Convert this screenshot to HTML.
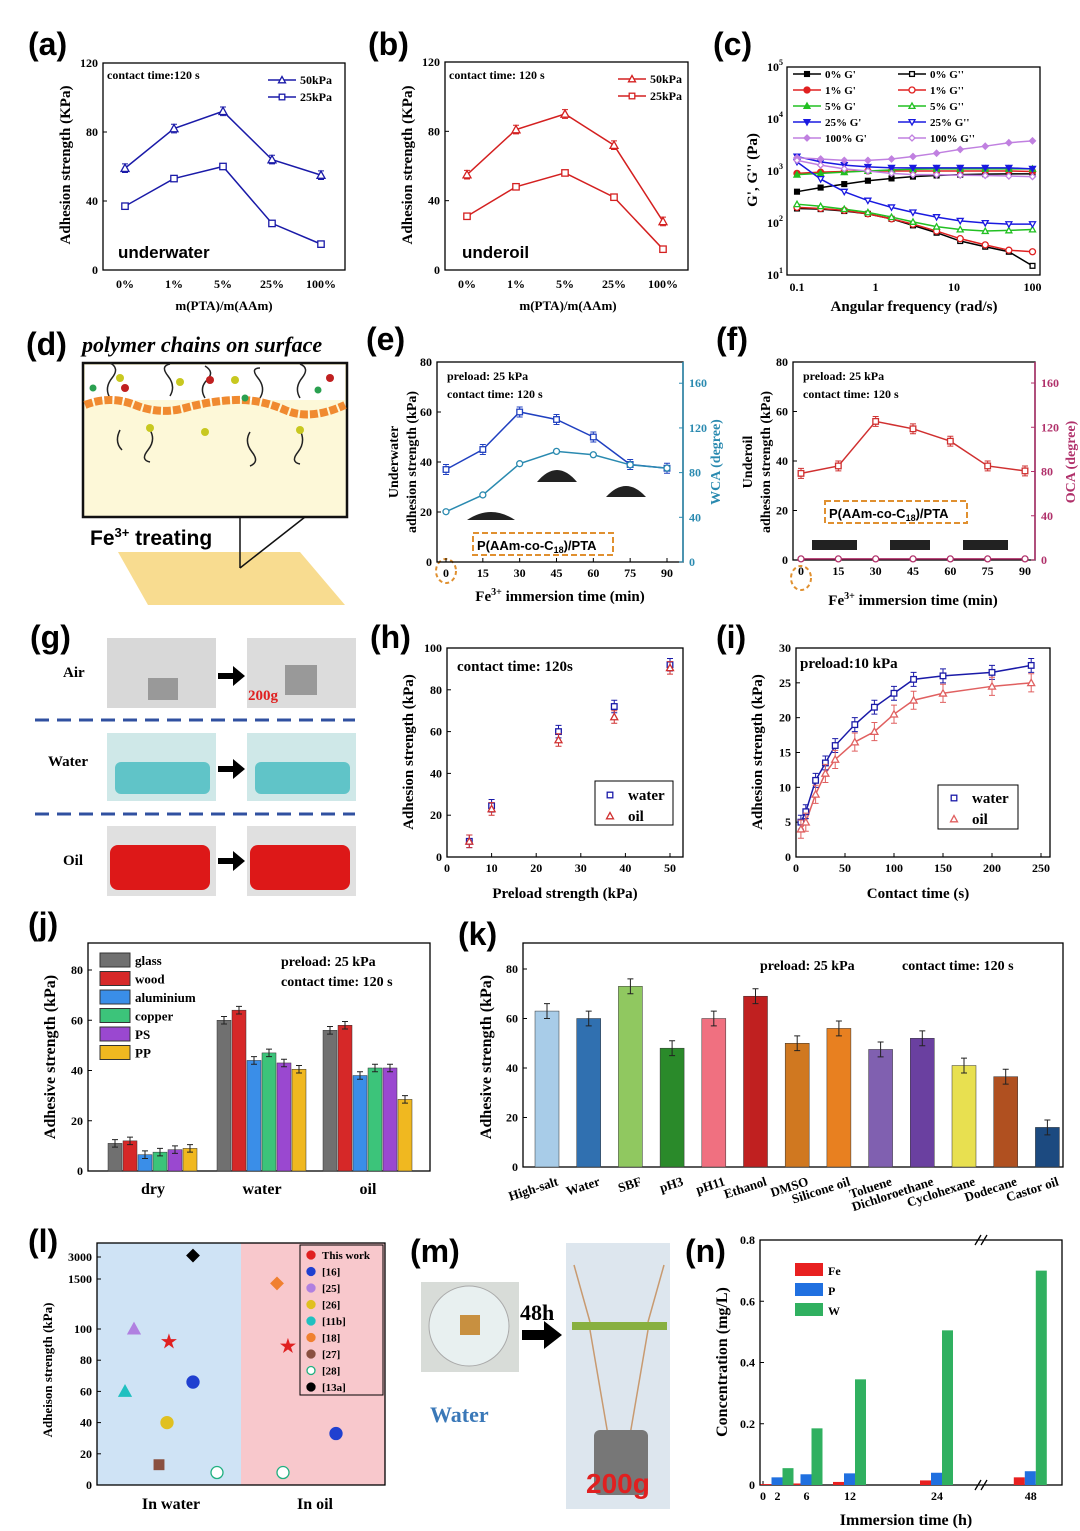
<!DOCTYPE html>
<html><head><meta charset="utf-8"><style>
body{margin:0;background:#fff}
svg{display:block;font-family:"Liberation Serif",serif;font-weight:bold}
.pl{font-family:"Liberation Sans",sans-serif;font-size:32px;font-weight:bold}
.tk{font-size:12px}
.at{font-size:15px}
</style></head><body>
<svg id="fig" width="1080" height="1531" viewBox="0 0 1080 1531" xmlns="http://www.w3.org/2000/svg">
<g>
<text class="pl" x="28" y="55">(a)</text>
<text class="pl" x="368" y="55">(b)</text>
<text class="pl" x="713" y="55">(c)</text>
<text class="pl" x="26" y="355">(d)</text>
<text class="pl" x="366" y="350">(e)</text>
<text class="pl" x="716" y="350">(f)</text>
<text class="pl" x="30" y="648">(g)</text>
<text class="pl" x="370" y="648">(h)</text>
<text class="pl" x="716" y="648">(i)</text>
<text class="pl" x="28" y="935">(j)</text>
<text class="pl" x="458" y="945">(k)</text>
<text class="pl" x="28" y="1252">(l)</text>
<text class="pl" x="410" y="1262">(m)</text>
<text class="pl" x="685" y="1262">(n)</text>
</g>
<g>
<text x="107" y="79" font-size="12">contact time:120 s</text>
<text x="118" y="258" font-family="Liberation Sans" font-size="17">underwater</text>
<text x="224" y="310" text-anchor="middle" font-size="13">m(PTA)/m(AAm)</text>
<text transform="translate(70,165) rotate(-90)" text-anchor="middle" class="at">Adhesion strength (KPa)</text>
<text x="449" y="79" font-size="12">contact time:  120 s</text>
<text x="462" y="258" font-family="Liberation Sans" font-size="17">underoil</text>
<text x="568" y="310" text-anchor="middle" font-size="13">m(PTA)/m(AAm)</text>
<text transform="translate(412,165) rotate(-90)" text-anchor="middle" class="at">Adhesion strength (KPa)</text>
<text x="914" y="311" text-anchor="middle" class="at">Angular frequency (rad/s)</text>
<text transform="translate(757,170) rotate(-90)" text-anchor="middle" class="at">G', G'' (Pa)</text>
<text x="82" y="352" font-size="22" font-style="italic">polymer chains on surface</text>
<text transform="translate(398,462) rotate(-90)" text-anchor="middle" font-size="14">Underwater</text>
<text x="447" y="380" font-size="12">preload:  25 kPa</text>
<text x="447" y="398" font-size="12">contact time:  120 s</text>
<text x="560" y="601" text-anchor="middle" class="at">Fe<tspan font-size="10" dy="-6">3+</tspan><tspan dy="6"> immersion time (min)</tspan></text>
<text transform="translate(416,462) rotate(-90)" text-anchor="middle" font-size="14">adhesion strength (kPa)</text>
<text transform="translate(720,462) rotate(-90)" text-anchor="middle" font-size="14" fill="#2a8ab0">WCA (degree)</text>
<rect x="473" y="533" width="140" height="22" fill="none" stroke="#e09030" stroke-width="2" stroke-dasharray="6,3"/>
<text x="477" y="550" font-family="Liberation Sans" font-size="13">P(AAm-co-C<tspan font-size="9" dy="3">18</tspan><tspan dy="-3">)/PTA</tspan></text>
<ellipse cx="446" cy="571" rx="10" ry="12" fill="none" stroke="#e09030" stroke-width="2" stroke-dasharray="4,3"/>
<text x="803" y="380" font-size="12">preload:  25 kPa</text>
<text x="803" y="398" font-size="12">contact time:  120 s</text>
<text x="913" y="605" text-anchor="middle" class="at">Fe<tspan font-size="10" dy="-6">3+</tspan><tspan dy="6"> immersion time (min)</tspan></text>
<text transform="translate(752,462) rotate(-90)" text-anchor="middle" font-size="14">Underoil</text>
<text transform="translate(770,462) rotate(-90)" text-anchor="middle" font-size="14">adhesion strength (kPa)</text>
<text transform="translate(1075,462) rotate(-90)" text-anchor="middle" font-size="14" fill="#b0306a">OCA (degree)</text>
<rect x="825" y="501" width="142" height="22" fill="none" stroke="#e09030" stroke-width="2" stroke-dasharray="6,3"/>
<text x="829" y="518" font-family="Liberation Sans" font-size="13">P(AAm-co-C<tspan font-size="9" dy="3">18</tspan><tspan dy="-3">)/PTA</tspan></text>
<ellipse cx="801" cy="578" rx="10" ry="12" fill="none" stroke="#e09030" stroke-width="2" stroke-dasharray="4,3"/>
<text x="457" y="671" font-size="15">contact time: 120s</text>
<text x="565" y="898" text-anchor="middle" class="at">Preload strength (kPa)</text>
<text transform="translate(413,752) rotate(-90)" text-anchor="middle" class="at">Adhesion strength (kPa)</text>
<text x="800" y="668" font-size="15">preload:10 kPa</text>
<text x="918" y="898" text-anchor="middle" class="at">Contact time (s)</text>
<text transform="translate(762,752) rotate(-90)" text-anchor="middle" class="at">Adhesion strength (kPa)</text>
<text x="281" y="966" font-size="14">preload:  25 kPa</text>
<text x="281" y="986" font-size="14">contact time:  120 s</text>
<text transform="translate(55,1057) rotate(-90)" text-anchor="middle" font-size="16">Adhesive strength (kPa)</text>
<text x="760" y="970" font-size="14">preload:  25 kPa</text>
<text x="902" y="970" font-size="14">contact time:  120 s</text>
<text transform="translate(491,1057) rotate(-90)" text-anchor="middle" font-size="16">Adhesive strength (kPa)</text>
<text transform="translate(52,1370) rotate(-90)" text-anchor="middle" font-size="13">Adheison strength (kPa)</text>
<text x="171" y="1509" text-anchor="middle" font-size="16">In water</text>
<text x="315" y="1509" text-anchor="middle" font-size="16">In oil</text>
<text x="906" y="1525" text-anchor="middle" font-size="16">Immersion time (h)</text>
<text transform="translate(727,1362) rotate(-90)" text-anchor="middle" font-size="16">Concentration (mg/L)</text>
</g>
<g>
<polygon points="118,552 300,552 345,605 148,605" fill="#f8dc90"/>
<rect x="83" y="363" width="264" height="154" fill="#fdf8d8" stroke="#111" stroke-width="2.5"/>
<rect x="85" y="365" width="260" height="35" fill="#fff"/>
<path d="M110,398 q-6,-10 2,-20 t-2,-15 M170,396 q6,-10 -2,-20 t2,-12 M205,398 q-6,-10 2,-18 t-2,-14 M260,398 q6,-10 -2,-20 t2,-10 M300,398 q-6,-10 2,-20 t-2,-14 M150,430 q6,10 -2,20 t2,12 M250,432 q-6,10 2,20 t-2,14 M300,430 q6,12 -2,22 t2,12 M120,430 q-6,12 2,20" fill="none" stroke="#222" stroke-width="1.5"/>
<path d="M85,405 Q110,395 135,405 T185,408 T235,400 T285,410 T345,405" fill="none" stroke="#f08a30" stroke-width="8" stroke-dasharray="8,2"/>
<g fill="#c8c820"><circle cx="120" cy="378" r="4"/><circle cx="180" cy="382" r="4"/><circle cx="235" cy="380" r="4"/><circle cx="150" cy="428" r="4"/><circle cx="300" cy="430" r="4"/><circle cx="205" cy="432" r="4"/></g>
<g fill="#c02020"><circle cx="125" cy="388" r="4"/><circle cx="210" cy="380" r="4"/><circle cx="330" cy="378" r="4"/></g>
<g fill="#2aa050"><circle cx="93" cy="388" r="3.5"/><circle cx="245" cy="398" r="3.5"/><circle cx="318" cy="390" r="3.5"/></g>
<rect x="85" y="522" width="150" height="30" fill="#fff"/>
<text x="90" y="545" font-family="Liberation Sans" font-size="21">Fe<tspan font-size="13" dy="-8">3+</tspan><tspan dy="8"> treating</tspan></text>
<line x1="240" y1="517" x2="240" y2="568" stroke="#111" stroke-width="1.5"/>
<line x1="240" y1="568" x2="305" y2="517" stroke="#111" stroke-width="1.5"/>
</g>
<g>
<text x="63" y="677" font-size="15">Air</text>
<text x="48" y="766" font-size="15">Water</text>
<text x="63" y="865" font-size="15">Oil</text>
<rect x="107" y="638" width="109" height="70" fill="#d8d8d8"/>
<rect x="247" y="638" width="109" height="70" fill="#dcdcdc"/>
<rect x="107" y="733" width="109" height="68" fill="#cfe8e8"/>
<rect x="247" y="733" width="109" height="68" fill="#cfe8e8"/>
<rect x="107" y="826" width="109" height="70" fill="#e0e0e0"/>
<rect x="247" y="826" width="109" height="70" fill="#e0e0e0"/>
<rect x="110" y="845" width="100" height="45" rx="8" fill="#dd1818"/>
<rect x="250" y="845" width="100" height="45" rx="8" fill="#dd1818"/>
<rect x="115" y="762" width="95" height="32" rx="6" fill="#60c4c8"/>
<rect x="255" y="762" width="95" height="32" rx="6" fill="#60c4c8"/>
<rect x="148" y="678" width="30" height="22" fill="#999"/>
<rect x="285" y="665" width="32" height="30" fill="#999"/>
<text x="248" y="700" fill="#e02020" font-size="15">200g</text>
<path d="M218,673 h15 v-7 l12,10 l-12,10 v-7 h-15z M218,766 h15 v-7 l12,10 l-12,10 v-7 h-15z M218,858 h15 v-7 l12,10 l-12,10 v-7 h-15z" fill="#000"/>
<line x1="35" y1="720" x2="355" y2="720" stroke="#3050a0" stroke-width="3" stroke-dasharray="14,8"/>
<line x1="35" y1="814" x2="355" y2="814" stroke="#3050a0" stroke-width="3" stroke-dasharray="14,8"/>
</g>
<g>
<rect x="421" y="1282" width="98" height="90" fill="#d8dcd8"/>
<circle cx="469" cy="1326" r="40" fill="#e8f0f0" stroke="#aaa"/>
<rect x="460" y="1315" width="20" height="20" fill="#c89040"/>
<text x="520" y="1320" font-size="22">48h</text>
<path d="M522,1330 h22 v-9 l18,14 l-18,14 v-9 h-22z" fill="#000"/>
<text x="430" y="1422" fill="#3a78b8" font-size="22">Water</text>
<rect x="566" y="1243" width="104" height="266" fill="#dde6ee"/>
<path d="M574,1265 L590,1322 M664,1265 L648,1322 M590,1330 L608,1435 M648,1330 L630,1435" stroke="#c89a70" stroke-width="1.5"/>
<rect x="572" y="1322" width="95" height="8" fill="#88b040"/>
<rect x="594" y="1430" width="54" height="65" rx="6" fill="#777"/>
<text x="586" y="1493" fill="#e02020" font-size="28" font-family="Liberation Sans">200g</text>
</g>
<g id="charts"></g>
</svg>
<script>
const aCats=["0%","1%","5%","25%","100%"];
const a50=[59,82,92,64,55];
const a25=[37,53,60,27,15];
const b50=[55,81,90,72,28];
const b25=[31,48,56,42,12];
const cFreq=[0.1,0.2,0.4,0.8,1.6,3,6,12,25,50,100];
const c0G1=[400,480,560,650,720,780,820,850,870,880,880];
const c0G2=[190,185,170,150,120,90,65,45,35,28,15];
const c1G1=[900,950,980,1000,1000,1000,1000,1000,1000,1000,980];
const c1G2=[200,190,175,150,120,95,70,50,38,30,28];
const c5G1=[850,900,950,1000,1050,1080,1100,1100,1100,1100,1100];
const c5G2=[230,210,185,160,130,105,85,75,70,72,75];
const c25G1=[1900,1500,1300,1200,1150,1150,1150,1150,1150,1150,1100];
const c25G2=[1500,700,400,270,200,160,130,110,100,95,95];
const c100G1=[1800,1700,1600,1600,1700,1900,2200,2600,3000,3500,3800];
const c100G2=[1600,1300,1100,1000,900,850,850,830,820,800,780];
const eTimes=[0,15,30,45,60,75,90];
const eAdh=[37,45,60,57,50,39,37.5];
const eWCA=[45,60,88,99,96,87,84];
const fAdh=[35,38,56,53,48,38,36];
const fOCA=[1,1,1,1,1,1,1];
const hPre=[5,10,25,37.5,50];
const hWater=[7.5,24.5,60,72,92];
const hOil=[7.5,23,56,67,90.5];
const iTimes=[5,10,20,30,40,60,80,100,120,150,200,240];
const iWater=[5,6.5,11,13.5,16,19,21.5,23.5,25.5,26,26.5,27.5];
const iOil=[4,5,9,12,14,16.5,18,20.5,22.5,23.5,24.5,25];
const jGroups=["dry","water","oil"];
const jSurf=["glass","wood","aluminium","copper","PS","PP"];
const jDry=[11,12,6.5,7.5,8.5,9];
const jWater=[60,64,44,47,43,40.5];
const jOil=[56,58,38,41,41,28.5];
const kCats=["High-salt","Water","SBF","pH3","pH11","Ethanol","DMSO","Silicone oil","Toluene","Dichloroethane","Cyclohexane","Dodecane","Castor oil"];
const kVals=[63,60,73,48,60,69,50,56,47.5,52,41,36.5,16];
const nTimes=[2,6,12,24,48];
const nFe=[0.003,0.005,0.01,0.015,0.025];
const nP=[0.025,0.035,0.038,0.04,0.045];
const nW=[0.055,0.185,0.345,0.505,0.7];
const lWaterVals=[100,92,66,60,40,13,8,3100];
const lOilVals=[1200,89,33,8];

const NS="http://www.w3.org/2000/svg";
const root=document.getElementById('charts');
function mk(tag,attrs,parent){const e=document.createElementNS(NS,tag);for(const k in attrs)e.setAttribute(k,attrs[k]);(parent||root).appendChild(e);return e;}
function lin(d0,d1,r0,r1){return v=>r0+(v-d0)/(d1-d0)*(r1-r0);}
function frame(x,y,w,h,nm){const e=mk('rect',{x:x,y:y,width:w,height:h,fill:'none',stroke:'#000','stroke-width':1.3});

}
function yticks(vals,sy,x,nm,side,color){vals.forEach(v=>{const y=sy(v);
const t=mk('line',{x1:x,x2:x+(side?-4:4),y1:y,y2:y,stroke:color||'#000'});


const l=mk('text',{x:side?x+6:x-5,y:y+4,'text-anchor':side?'start':'end','font-size':12,fill:color||'#000'});l.textContent=v;

});}
function xticks(vals,sx,y,nm,labs){vals.forEach((v,i)=>{const x=sx(v);
const t=mk('line',{x1:x,x2:x,y1:y,y2:y-4,stroke:'#000'});


const l=mk('text',{x:x,y:y+15,'text-anchor':'middle','font-size':12});l.textContent=labs?labs[i]:v;

});}
function marker(shape,x,y,color,s,fill){s=s||4;fill=fill||'#fff';let e;
if(shape==='tri')e=mk('polygon',{points:`${x},${y-s} ${x-s},${y+s*0.8} ${x+s},${y+s*0.8}`,fill:fill,stroke:color,'stroke-width':1.3});
else if(shape==='tridown')e=mk('polygon',{points:`${x},${y+s} ${x-s},${y-s*0.8} ${x+s},${y-s*0.8}`,fill:fill,stroke:color,'stroke-width':1.3});
else if(shape==='circ')e=mk('circle',{cx:x,cy:y,r:s,fill:fill,stroke:color,'stroke-width':1.3});
else if(shape==='dia')e=mk('polygon',{points:`${x},${y-s} ${x+s},${y} ${x},${y+s} ${x-s},${y}`,fill:fill,stroke:color,'stroke-width':1.3});
else e=mk('rect',{x:x-s*0.8,y:y-s*0.8,width:s*1.6,height:s*1.6,fill:fill,stroke:color,'stroke-width':1.3});
return e;}
function line(xs,ys,sx,sy,color,nm,w){const e=mk('polyline',{points:xs.map((x,i)=>sx(x)+','+sy(ys[i])).join(' '),fill:'none',stroke:color,'stroke-width':w||1.5});

}
function errbar(x,y1,y2,color){const e=mk('path',{d:`M${x},${y1}V${y2}M${x-3},${y1}h6M${x-3},${y2}h6`,stroke:color,fill:'none'});

}

function panelAB(x0,y0,w,h,d50,d25,color,nm,legX){
 frame(x0,y0,w,h,nm+'-frame');
 const sy=lin(0,120,y0+h,y0);const sx=i=>x0+22+i*49;
 yticks([0,40,80,120],sy,x0,nm+'-y');
 aCats.forEach((c,i)=>{const l=mk('text',{x:sx(i),y:y0+h+18,'text-anchor':'middle','font-size':12});l.textContent=c;
 
 });
 const idx=aCats.map((c,i)=>i);
 line(idx,d50,sx,sy,color,nm+'-line-50kpa');line(idx,d25,sx,sy,color,nm+'-line-25kpa');
 idx.forEach(i=>{errbar(sx(i),sy(d50[i]+2.5),sy(d50[i]-2.5),color);
 const m=marker('tri',sx(i),sy(d50[i]),color);
 
 
 const m2=marker('sq',sx(i),sy(d25[i]),color);
 
 });
 [["50kPa",y0+17,'tri'],["25kPa",y0+34,'sq']].forEach(r=>{const l=mk('line',{x1:legX,x2:legX+28,y1:r[1],y2:r[1],stroke:color,'stroke-width':1.5});
 
 
 const m=marker(r[2],legX+14,r[1],color,3.5);
 
 
 const t=mk('text',{x:legX+32,y:r[1]+4,'font-size':12});t.textContent=r[0];
 
 });
}
panelAB(103,63,242,207,a50,a25,'#1a1aa8','a',268);
panelAB(445,62,243,208,b50,b25,'#d42020','b',618);

(function(){
 const x0=787,y0=67,w=253,h=208;frame(x0,y0,w,h,'c-frame');
 const sy=v=>y0+h-(Math.log10(v)-1)/4*h;const sx=v=>797+(Math.log10(v)+1)*78.5;
 [1,2,3,4,5].forEach(p=>{const y=sy(Math.pow(10,p));const t=mk('text',{x:x0-4,y:y+4,'text-anchor':'end','font-size':12});t.textContent='10';
 const s=mk('tspan',{'font-size':8,dy:-6});s.textContent=p;t.appendChild(s);
 
 });
 [0.1,1,10,100].forEach(v=>{const t=mk('text',{x:sx(v),y:y0+h+16,'text-anchor':'middle','font-size':12});t.textContent=v;
 
 });
 const series=[["0%",c0G1,c0G2,'#000','sq'],["1%",c1G1,c1G2,'#e02020','circ'],["5%",c5G1,c5G2,'#22c022','tri'],["25%",c25G1,c25G2,'#1a1ae0','tridown'],["100%",c100G1,c100G2,'#c080e0','dia']];
 series.forEach((s,k)=>{
  line(cFreq,s[1],sx,sy,s[3],'c-line-gp-'+s[0]);line(cFreq,s[2],sx,sy,s[3],'c-line-gpp-'+s[0]);
  cFreq.forEach((f,i)=>{const m=marker(s[4],sx(f),sy(s[1][i]),s[3],3,s[3]);
  
  
  const m2=marker(s[4],sx(f),sy(s[2][i]),s[3],3);
  
  });
  const ly=74+k*16;
  [[793,s[3],"G'"],[898,'#fff',"G''"]].forEach(c=>{const l=mk('line',{x1:c[0],x2:c[0]+28,y1:ly,y2:ly,stroke:s[3],'stroke-width':1.5});
  
  
  const m=marker(s[4],c[0]+14,ly,s[3],3,c[1]);
  
  
  const t=mk('text',{x:c[0]+32,y:ly+4,'font-size':11});t.textContent=s[0]+'     '+c[2];t.setAttribute('xml:space','preserve');
  
  });
 });
})();

function panelEF(x0,y0,w,h,xs0,xs1,adh,right,ccol,rcol,nm,rmax){
 frame(x0,y0,w,h,nm+'-frame');
 const sy=lin(0,80,y0+h,y0);const sx=lin(0,90,xs0,xs1);const sy2=lin(0,rmax,y0+h,y0);
 yticks([0,20,40,60,80],sy,x0,nm+'-y');
 yticks([0,40,80,120,160],sy2,x0+w,nm+'-y2',true,rcol);
 const ax=mk('line',{x1:x0+w,x2:x0+w,y1:y0,y2:y0+h,stroke:rcol,'stroke-width':1.5});
 
 
 xticks(eTimes,sx,y0+h,nm+'-x');
 line(eTimes,adh,sx,sy,ccol,nm+'-adhesion-line');line(eTimes,right,sx,sy2,rcol,nm+'-angle-line');
 eTimes.forEach((t,i)=>{errbar(sx(t),sy(adh[i]+2),sy(adh[i]-2),ccol);
 const m=marker('sq',sx(t),sy(adh[i]),ccol,3.5);
 
 
 const m2=marker('circ',sx(t),sy2(right[i]),rcol,3);
 
 });
}
panelEF(437,362,246,200,446,667,eAdh,eWCA,'#2040c0','#2a8ab0','e',179);
panelEF(793,362,242,198,801,1025,fAdh,fOCA,'#d03030','#b0306a','f',179);
[[467,512,48,8],[537,470,40,12],[606,486,40,11]].forEach(d=>{const e=mk('path',{d:`M${d[0]},${d[1]+d[3]} q${d[2]/2},${-d[3]*2} ${d[2]},0 z`,fill:'#222'});

});
[[812,540,45],[890,540,40],[963,540,45]].forEach(d=>{const e=mk('rect',{x:d[0],y:d[1],width:d[2],height:10,fill:'#222'});

});

(function(){
 const x0=447,y0=648,w=236,h=209;frame(x0,y0,w,h,'h-frame');
 const sy=lin(0,100,y0+h,y0),sx=lin(0,50,447,670);
 yticks([0,20,40,60,80,100],sy,x0,'h-y');xticks([0,10,20,30,40,50],sx,y0+h,'h-x');
 hPre.forEach((p,i)=>{errbar(sx(p),sy(hWater[i]+3),sy(hWater[i]-3),'#1a1aa8');
 const m=marker('sq',sx(p),sy(hWater[i]),'#1a1aa8',3.5);
 
 
 errbar(sx(p),sy(hOil[i]+3),sy(hOil[i]-3),'#d03030');
 const m2=marker('tri',sx(p),sy(hOil[i]),'#d03030',3.5);
 
 });
 const b=mk('rect',{x:595,y:781,width:78,height:44,fill:'#fff',stroke:'#000'});
 
 
 [["water",795,'sq','#1a1aa8'],["oil",816,'tri','#d03030']].forEach(r=>{const m=marker(r[2],610,r[1],r[3],3.5);
 
 
 const t=mk('text',{x:628,y:r[1]+5,'font-size':15});t.textContent=r[0];
 
 });
})();

(function(){
 const x0=796,y0=648,w=254,h=209;frame(x0,y0,w,h,'i-frame');
 const sy=lin(0,30,y0+h,y0),sx=lin(0,250,796,1041);
 yticks([0,5,10,15,20,25,30],sy,x0,'i-y');xticks([0,50,100,150,200,250],sx,y0+h,'i-x');
 line(iTimes,iWater,sx,sy,'#1a1aa8','i-water-fit',1.5);line(iTimes,iOil,sx,sy,'#e06060','i-oil-fit',1.5);
 iTimes.forEach((t,i)=>{errbar(sx(t),sy(iWater[i]+1),sy(iWater[i]-1),'#1a1aa8');
 const m=marker('sq',sx(t),sy(iWater[i]),'#1a1aa8',3.5);
 
 
 errbar(sx(t),sy(iOil[i]+1.3),sy(iOil[i]-1.3),'#e06060');
 const m2=marker('tri',sx(t),sy(iOil[i]),'#e06060',3.5);
 
 });
 const b=mk('rect',{x:938,y:785,width:80,height:44,fill:'#fff',stroke:'#000'});
 
 
 [["water",798,'sq','#1a1aa8'],["oil",819,'tri','#e06060']].forEach(r=>{const m=marker(r[2],954,r[1],r[3],3.5);
 
 
 const t=mk('text',{x:972,y:r[1]+5,'font-size':15});t.textContent=r[0];
 
 });
})();

(function(){
 const x0=88,y0=943,w=342,h=228;frame(x0,y0,w,h,'j-frame');
 const sy=lin(0,80,1171,970);yticks([0,20,40,60,80],sy,x0,'j-y');
 const cols=['#707070','#d62828','#3a8ee8','#3cc47a','#9a48d0','#f0b820'];
 const centers=[153,262,368];const data=[jDry,jWater,jOil];
 data.forEach((arr,g)=>{arr.forEach((v,i)=>{const x=centers[g]-45+i*15;
  const r=mk('rect',{x:x,y:sy(v),width:14,height:sy(0)-sy(v),fill:cols[i],stroke:'#333','stroke-width':0.5});
  
  
  errbar(x+7,sy(v+1.5),sy(v-1.5),'#222');});
  const t=mk('text',{x:centers[g],y:1194,'text-anchor':'middle','font-size':16});t.textContent=jGroups[g];
  
  });
 jSurf.forEach((s,i)=>{const r=mk('rect',{x:100,y:953+i*18.5,width:30,height:14,fill:cols[i],stroke:'#333'});
 
 
 const t=mk('text',{x:135,y:965+i*18.5,'font-size':13});t.textContent=s;
 
 });
})();

(function(){
 const x0=523,y0=943,w=540,h=224;frame(x0,y0,w,h,'k-frame');
 const sy=lin(0,80,1167,969);yticks([0,20,40,60,80],sy,x0,'k-y');
 const cols=['#a8cce8','#3070b0','#90c860','#2a8a2a','#f07080','#c02020','#d07820','#e88020','#8060b0','#6a40a0','#e8e050','#b05020','#1c4a80'];
 kCats.forEach((c,i)=>{const cx=547+i*41.7;const v=kVals[i];
  const r=mk('rect',{x:cx-12,y:sy(v),width:24,height:sy(0)-sy(v),fill:cols[i],stroke:'#333','stroke-width':0.5});
  
  
  errbar(cx,sy(v+3),sy(v-3),'#222');
  const t=mk('text',{'text-anchor':'end','font-size':13,transform:`translate(${cx+12},${1185}) rotate(-18)`});t.textContent=c;
  
  });
})();

(function(){
 const bg1=mk('rect',{x:97,y:1243,width:144,height:242,fill:'#cfe3f5'});
 
 
 const bg2=mk('rect',{x:241,y:1243,width:144,height:242,fill:'#f8c8cc'});
 
 
 frame(97,1243,288,242,'l-frame');
 const sy=v=>v<=110?lin(0,100,1485,1329)(v):lin(1500,3000,1279,1257)(v);
 yticks([0,20,40,60,80,100,1500,3000],sy,97,'l-y');
 const wx=[134,169,193,125,167,159,217,193],ws=['tri','star','circ','tri','hex','sq','pent','dia'],wc=['#b080e0','#e02020','#2040d0','#20c0c0','#e0c020','#8a5040','#20b080','#000'];
 lWaterVals.forEach((v,i)=>{const m=ws[i]==='star'?mk('text',{x:wx[i],y:sy(v)+6,'text-anchor':'middle','font-size':18,fill:wc[i]}):marker(ws[i]==='hex'||ws[i]==='pent'?'circ':ws[i],wx[i],sy(v),wc[i],6,ws[i]==='pent'?'#fff':wc[i]);
 if(ws[i]==='star')m.textContent='★';
 
 });
 const ox=[277,288,336,283],os=['dia','star','circ','circ'],oc=['#f08030','#e02020','#2040d0','#20b080'];
 lOilVals.forEach((v,i)=>{const m=os[i]==='star'?mk('text',{x:ox[i],y:sy(v)+6,'text-anchor':'middle','font-size':18,fill:oc[i]}):marker(os[i],ox[i],sy(v),oc[i],6,i===3?'#fff':oc[i]);
 if(os[i]==='star')m.textContent='★';
 
 });
 const lb=mk('rect',{x:300,y:1245,width:83,height:150,fill:'#f8c8cc',stroke:'#000'});
 
 
 ["This work","[16]","[25]","[26]","[11b]","[18]","[27]","[28]","[13a]"].forEach((s,i)=>{const t=mk('text',{x:322,y:1259+i*16.5,'font-size':11});t.textContent=s;
 
 
 const m=marker('circ',311,1255+i*16.5,['#e02020','#2040d0','#b080e0','#e0c020','#20c0c0','#f08030','#8a5040','#20b080','#000'][i],4,['#e02020','#2040d0','#b080e0','#e0c020','#20c0c0','#f08030','#8a5040','#fff','#000'][i]);
 
 });
})();

(function(){
 const x0=760,y0=1240,w=302,h=245;frame(x0,y0,w,h,'n-frame');
 const sy=lin(0,0.8,1485,1240);yticks([0,0.2,0.4,0.6,0.8],sy,x0,'n-y');
 const sx=t=>t<=24?763+t*7.25:990+(t-40)*5.1;
 xticks([0,2,6,12,24,48],sx,1485,'n-x');
 const sers=[[nFe,'#e82020',-12,'Fe'],[nP,'#2070e0',-1,'P'],[nW,'#30b060',10,'W']];
 sers.forEach(s=>{nTimes.forEach((t,i)=>{const r=mk('rect',{x:sx(t)+s[2]-5,y:sy(s[0][i]),width:11,height:sy(0)-sy(s[0][i]),fill:s[1]});
  
  });});
 sers.forEach((s,i)=>{const r=mk('rect',{x:795,y:1263+i*20,width:28,height:13,fill:s[1]});
 
 
 const t=mk('text',{x:828,y:1275+i*20,'font-size':12});t.textContent=s[3];
 
 });
 const br=mk('path',{d:'M975,1245 l6,-10 M981,1245 l6,-10 M975,1490 l6,-10 M981,1490 l6,-10',stroke:'#000','stroke-width':1.3});
 
 
})();
</script>
</body></html>
